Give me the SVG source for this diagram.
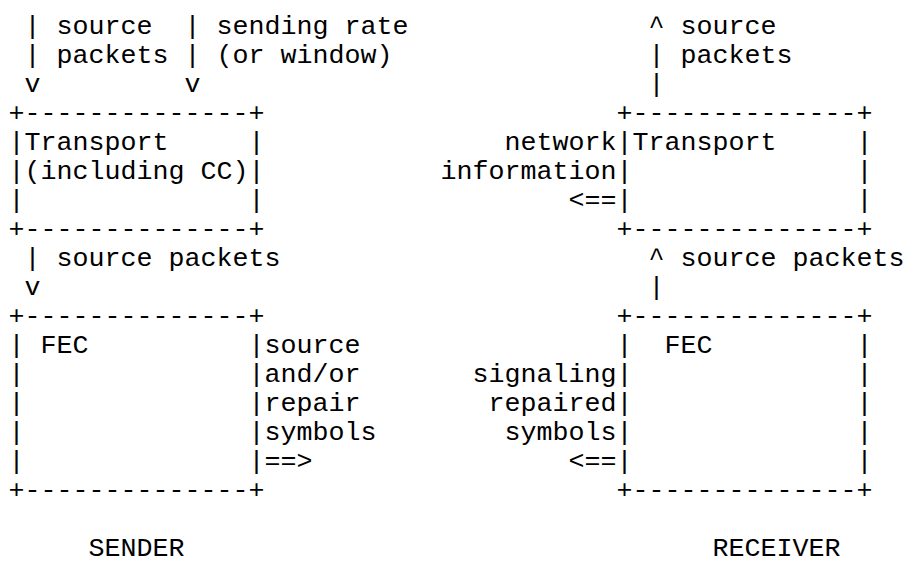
<svg xmlns="http://www.w3.org/2000/svg" width="906" height="563" viewBox="0 0 906 563">
  <style>
    text { font-family: "Liberation Mono", "Courier New", monospace; font-size: 26.667px; fill: #000; }
  </style>
  <rect width="906" height="563" fill="#fff"/>

  <!-- Grid: column c starts at x = 8.5 + 16c, row r baseline at y = 34 + 29r -->

  <g id="sender-transport">
    <text x="8.5" y="121">+--------------+</text>
    <text x="8.5" y="150">|</text><text x="24.5" y="150">Transport</text><text x="248.5" y="150">|</text>
    <text x="8.5" y="179">|(including CC)|</text>
    <text x="8.5" y="208">|</text><text x="248.5" y="208">|</text>
    <text x="8.5" y="237">+--------------+</text>
  </g>

  <g id="receiver-transport">
    <text x="616.5" y="121">+--------------+</text>
    <text x="616.5" y="150">|</text><text x="632.5" y="150">Transport</text><text x="856.5" y="150">|</text>
    <text x="616.5" y="179">|</text><text x="856.5" y="179">|</text>
    <text x="616.5" y="208">|</text><text x="856.5" y="208">|</text>
    <text x="616.5" y="237">+--------------+</text>
  </g>

  <g id="sender-fec">
    <text x="8.5" y="324">+--------------+</text>
    <text x="8.5" y="353">|</text><text x="40.5" y="353">FEC</text><text x="248.5" y="353">|</text>
    <text x="8.5" y="382">|</text><text x="248.5" y="382">|</text>
    <text x="8.5" y="411">|</text><text x="248.5" y="411">|</text>
    <text x="8.5" y="440">|</text><text x="248.5" y="440">|</text>
    <text x="8.5" y="469">|</text><text x="248.5" y="469">|</text>
    <text x="8.5" y="498">+--------------+</text>
  </g>

  <g id="receiver-fec">
    <text x="616.5" y="324">+--------------+</text>
    <text x="616.5" y="353">|</text><text x="664.5" y="353">FEC</text><text x="856.5" y="353">|</text>
    <text x="616.5" y="382">|</text><text x="856.5" y="382">|</text>
    <text x="616.5" y="411">|</text><text x="856.5" y="411">|</text>
    <text x="616.5" y="440">|</text><text x="856.5" y="440">|</text>
    <text x="616.5" y="469">|</text><text x="856.5" y="469">|</text>
    <text x="616.5" y="498">+--------------+</text>
  </g>

  <g id="connectors">
    <!-- source packets into sender transport -->
    <text x="24.5" y="34">|</text><text x="24.5" y="63">|</text><text x="24.5" y="92">v</text>
    <!-- sending rate into sender transport -->
    <text x="184.5" y="34">|</text><text x="184.5" y="63">|</text><text x="184.5" y="92">v</text>
    <!-- source packets out of receiver transport -->
    <text x="648.5" y="34">^</text><text x="648.5" y="63">|</text><text x="648.5" y="92">|</text>
    <!-- network information back from receiver transport -->
    <text x="568.5" y="208">&lt;==</text>
    <!-- sender transport to sender FEC -->
    <text x="24.5" y="266">|</text><text x="24.5" y="295">v</text>
    <!-- receiver FEC to receiver transport -->
    <text x="648.5" y="266">^</text><text x="648.5" y="295">|</text>
    <!-- sender FEC output -->
    <text x="264.5" y="469">==&gt;</text>
    <!-- receiver FEC signaling -->
    <text x="568.5" y="469">&lt;==</text>
  </g>

  <g id="labels">
    <text x="56.5" y="34">source</text>
    <text x="56.5" y="63">packets</text>
    <text x="216.5" y="34">sending rate</text>
    <text x="216.5" y="63">(or window)</text>
    <text x="680.5" y="34">source</text>
    <text x="680.5" y="63">packets</text>
    <text x="504.5" y="150">network</text>
    <text x="440.5" y="179">information</text>
    <text x="56.5" y="266">source packets</text>
    <text x="680.5" y="266">source packets</text>
    <text x="264.5" y="353">source</text>
    <text x="264.5" y="382">and/or</text>
    <text x="264.5" y="411">repair</text>
    <text x="264.5" y="440">symbols</text>
    <text x="472.5" y="382">signaling</text>
    <text x="488.5" y="411">repaired</text>
    <text x="504.5" y="440">symbols</text>
  </g>

  <g id="sender-label"><text x="88.5" y="556">SENDER</text></g>
  <g id="receiver-label"><text x="712.5" y="556">RECEIVER</text></g>
</svg>
